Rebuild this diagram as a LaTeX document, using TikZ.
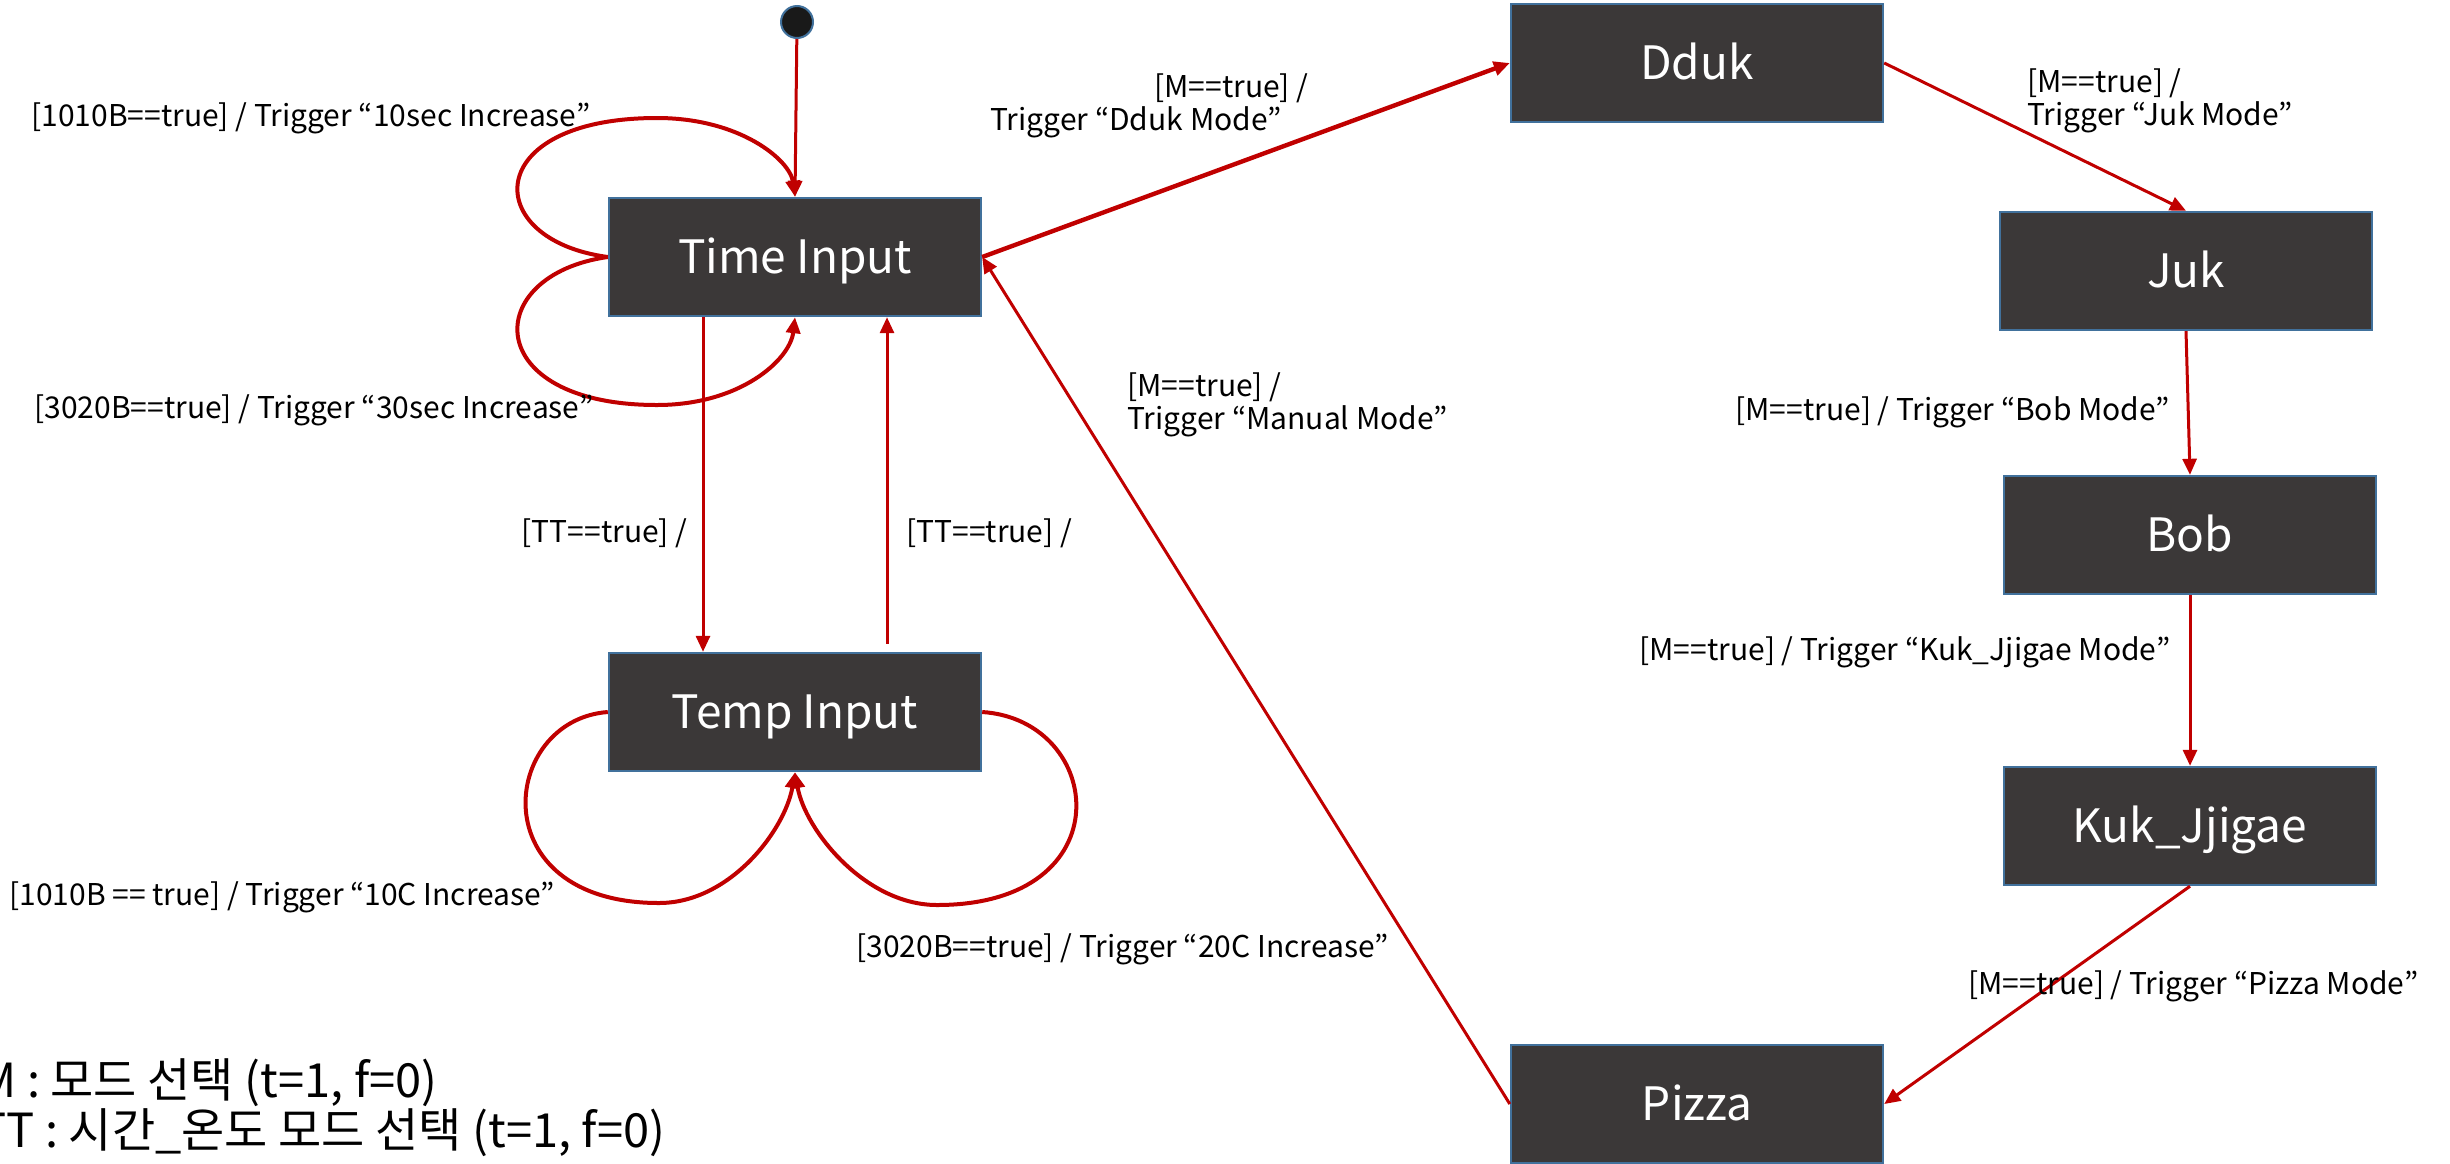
\documentclass[tikz,border=0pt]{standalone}
\usepackage{fontspec}
\setmainfont{Noto Sans CJK KR}
\usepackage{tikz}
\usetikzlibrary{calc, arrows.meta, positioning}
\usepackage{xcolor}
\definecolor{boxgray}{HTML}{3B3838}
\definecolor{boxblue}{HTML}{41719C}
\definecolor{darkred}{HTML}{C00000}

\begin{document}
\begin{tikzpicture}[
    x=0.5pt, y=-0.5pt,
    state node/.style={rectangle, draw=boxblue, line width=1.2pt, fill=boxgray, text=white, minimum width=186pt, minimum height=59pt, inner sep=0pt, text height=16.5pt, text depth=0pt, font=\fontsize{23}{28}\selectfont},
    start node/.style={circle, draw=boxblue, line width=1pt, fill=black!90, minimum size=16pt, inner sep=0pt},
    arrow/.style={-{Triangle[length=8pt, width=7pt]}, darkred, line width=1.5pt},
    loop arrow/.style={arrow, line width=2pt},
    label node/.style={font=\fontsize{15}{16.5}\selectfont, inner sep=0pt, align=left}
]
\useasboundingbox (0,0) rectangle (2450,1163);

% States
\node[start node] (init) at (797,22) {};
\node[state node] (TimeIn) at (795,257) {Time Input};
\node[state node] (TempIn) at (795,712) {Temp Input};
\node[state node] (Dduk) at (1697,63) {Dduk};
\node[state node] (Juk) at (2186,271) {Juk};
\node[state node] (Bob) at (2190,535) {Bob};
\node[state node] (Kuk) at (2190,826) {Kuk\_Jjigae};
\node[state node] (Pizza) at (1697,1104) {Pizza};

% Initial arrow
\draw[arrow] (init) -- (TimeIn.north);

% Self loops on Time Input
\draw[loop arrow] (TimeIn.west) .. controls (480,240) and (480,118) .. (657,118) .. controls (740,118) and (790,160) .. (TimeIn.north);
\draw[loop arrow] (TimeIn.west) .. controls (480,275) and (480,405) .. (657,405) .. controls (740,405) and (790,360) .. (TimeIn.south);

% Self loops on Temp Input
\draw[loop arrow] (TempIn.west) .. controls (500,720) and (480,903) .. (659,903) .. controls (730,903) and (785,830) .. (TempIn.south);
\draw[loop arrow] (TempIn.east) .. controls (1105,720) and (1125,905) .. (937,905) .. controls (865,905) and (805,830) .. (TempIn.south);

% Time / Temp switch
\draw[arrow] ($(TimeIn.south)+(-92,0)$) -- ($(TempIn.north)+(-92,0)$);
\draw[arrow] ($(TempIn.north)+(92,-8)$) -- ($(TimeIn.south)+(92,0)$);

% Mode chain
\draw[arrow, line width=2.2pt] (TimeIn.east) -- (Dduk.west);
\draw[arrow] (Dduk.east) -- (Juk.north);
\draw[arrow] (Juk.south) -- (Bob.north);
\draw[arrow] (Bob.south) -- (Kuk.north);
\draw[arrow] (Kuk.south) -- (Pizza.east);
\draw[arrow] (Pizza.west) -- (TimeIn.east);

% Labels
\node[label node, anchor=west] (lblTenSec) at (31,118) {[1010B==true] / Trigger “10sec Increase”};
\node[label node, anchor=west] (lblThirtySec) at (34,410) {[3020B==true] / Trigger “30sec Increase”};
\node[label node, anchor=east] (lblToTemp) at (688,533) {[TT==true] /};
\node[label node, anchor=west] (lblToTime) at (906,533) {[TT==true] /};
\node[label node, anchor=west] (lblTenC) at (9,897) {[1010B == true] / Trigger “10C Increase”};
\node[label node, anchor=west] (lblTwentyC) at (856,949) {[3020B==true] / Trigger “20C Increase”};
\node[label node, anchor=west] (lblDduk) at (990,106) {\hspace*{82pt}[M==true] /\\Trigger “Dduk Mode”};
\node[label node, anchor=west] (lblJuk) at (2027,101) {[M==true] /\\Trigger “Juk Mode”};
\node[label node, anchor=west] (lblManual) at (1127,405) {[M==true] /\\Trigger “Manual Mode”};
\node[label node, anchor=west] (lblBob) at (1735,412) {[M==true] / Trigger “Bob Mode”};
\node[label node, anchor=west] (lblKuk) at (1639,652) {[M==true] / Trigger “Kuk\_Jjigae Mode”};
\node[label node, anchor=west] (lblPizza) at (1968,986) {[M==true] / Trigger “Pizza Mode”};

% Legend
\node[label node, anchor=north west, font=\fontsize{23.5}{24}\selectfont] (legend) at (-22,1058) {M : 모드 선택 (t=1, f=0)\\TT : 시간\_온도 모드 선택 (t=1, f=0)};
\end{tikzpicture}
\end{document}
